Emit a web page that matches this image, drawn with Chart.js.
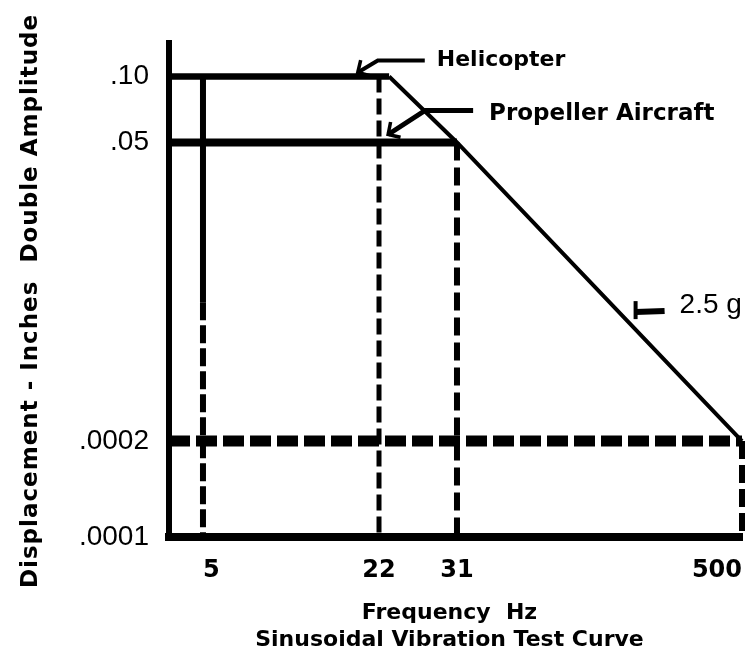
<!DOCTYPE html>
<html>
<head>
<meta charset="utf-8">
<script src="https://cdn.jsdelivr.net/npm/chart.js@4.4.1/dist/chart.umd.min.js"></script>
<style>
html, body { margin: 0; background: #fff; }
#wrap { width: 748px; height: 661px; }
</style>
</head>
<body>
<div id="wrap"><canvas id="chart"></canvas></div>
<script>
// Sinusoidal vibration test curve, drawn on schematic (not to scale) log axes
const freqTicks = [5, 22, 31, 500];
const ampTicks = [0.0001, 0.0002, 0.05, 0.1];
const ampLabels = ['.0001', '.0002', '.05', '.10'];

const heliFreq = [3.8, 23], heliAmp = [0.1, 0.1];
const propFreq = [3.8, 31], propAmp = [0.05, 0.05];
const gFreq = [23, 31, 500], gAmp = [0.1, 0.05, 0.0002];      // 2.5 g line
const floorFreq = [3.8, 500], floorAmp = [0.0002, 0.0002];
const fiveSolidAmp = [0.1, 0.0026];                           // 5 Hz line, solid part
const dropFreq = [5, 22, 31, 500];                            // dashed drop lines
const dropTop = [0.0026, 0.1, 0.05, 0.0002];

const noteText = ['Helicopter', 'Propeller Aircraft', '2.5 g'];
const noteFreq = [18.4, 22.9, 150];
const noteAmp = [0.1, 0.05, 0.00217];

// axis where each labelled value sits at a given fraction of the axis,
// log-interpolated in between (the original sketch is not to scale)
class StopScale extends Chart.Scale {
	static id = 'stops';
	static defaults = {};

	determineDataLimits() {
		const s = this.options.stops;
		this.min = s[0][0];
		this.max = s[s.length - 1][0];
	}
	buildTicks() {
		return this.options.tickValues.map(v => ({value: v}));
	}
	getPixelForValue(v) {
		const s = this.options.stops;
		let i = 1;
		while (i < s.length - 1 && v > s[i][0]) i++;
		const a = s[i - 1], b = s[i];
		const t = (Math.log10(v) - Math.log10(a[0])) / (Math.log10(b[0]) - Math.log10(a[0]));
		return this.getPixelForDecimal(a[1] + t * (b[1] - a[1]));
	}
	getValueForPixel(p) {
		const s = this.options.stops;
		let d = (p - this._startPixel) / this._length;
		if (this._reversePixels) d = 1 - d;
		let i = 1;
		while (i < s.length - 1 && d > s[i][1]) i++;
		const a = s[i - 1], b = s[i];
		const t = (d - a[1]) / (b[1] - a[1]);
		return Math.pow(10, Math.log10(a[0]) + t * (Math.log10(b[0]) - Math.log10(a[0])));
	}
	drawTitle() {
		const ctx = this.ctx, title = this.options.title;
		const shift = title.shift || [0, 0];
		ctx.save();
		ctx.letterSpacing = title.letterSpacing || '0px';
		ctx.translate(shift[0], shift[1]);
		super.drawTitle();
		ctx.restore();
	}
}
Chart.register(StopScale);

function line(xs, ys, width, dash) {
	return {
		data: xs.map((x, i) => ({x: x, y: ys[i]})),
		showLine: true,
		borderColor: '#000',
		borderWidth: width,
		borderDash: dash || [],
		borderCapStyle: 'butt',
		pointRadius: 0,
		tension: 0
	};
}

const datasets = [
	line(floorFreq, floorAmp, 11, [21, 6]),
	line([dropFreq[0], dropFreq[0]], fiveSolidAmp, 6),
	line([dropFreq[0], dropFreq[0]], [dropTop[0], ampTicks[0]], 6, [18, 5]),
	line([dropFreq[1], dropFreq[1]], [dropTop[1], ampTicks[0]], 5, [16, 6]),
	line([dropFreq[2], dropFreq[2]], [dropTop[2], ampTicks[0]], 6, [18, 7]),
	line([dropFreq[3], dropFreq[3]], [dropTop[3], ampTicks[0]], 6, [18, 6]),
	line(heliFreq, heliAmp, 6.5),
	line(propFreq, propAmp, 8),
	line(gFreq, gAmp, 4)
];

// arrows + labels, offsets in px from the point they point at
const noteShape = [
	{tip: [0, -4], path: [[67, -12], [20, -12]], width: 4, head: 'open', text: [79, -6], font: 'bold 22px "DejaVu Sans"'},
	{tip: [0, -8], path: [[85, -24], [37, -24]], width: 5, head: 'open', text: [101, -14], font: 'bold 23px "DejaVu Sans"'},
	{tip: [17, 0], path: [[29, -1]], width: 6, head: 'bar', text: [44, 1], font: '28px "Liberation Sans", Arial'}
];

const notesPlugin = {
	id: 'notes',
	afterDatasetsDraw(chart) {
		const ctx = chart.ctx, x = chart.scales.x, y = chart.scales.y;
		ctx.save();
		ctx.strokeStyle = '#000';
		ctx.fillStyle = '#000';
		noteText.forEach((t, i) => {
			const s = noteShape[i];
			const tx = x.getPixelForValue(noteFreq[i]) + s.tip[0];
			const ty = y.getPixelForValue(noteAmp[i]) + s.tip[1];
			ctx.lineWidth = s.width;
			ctx.lineCap = 'butt';
			ctx.beginPath();
			s.path.forEach((p, k) => k ? ctx.lineTo(tx + p[0], ty + p[1]) : ctx.moveTo(tx + p[0], ty + p[1]));
			ctx.lineTo(tx, ty);
			ctx.stroke();
			const last = s.path[s.path.length - 1];
			const ang = Math.atan2(last[1], last[0]);
			if (s.head == 'open') {
				ctx.lineWidth = 3.5;
				ctx.lineCap = 'square';
				ctx.beginPath();
				[-0.8, 0.8].forEach(a => {
					ctx.moveTo(tx + 11 * Math.cos(ang + a), ty + 11 * Math.sin(ang + a));
					ctx.lineTo(tx, ty);
				});
				ctx.stroke();
			} else {
				ctx.fillRect(tx - 2, ty - 11, 4, 18);
			}
			ctx.font = s.font;
			ctx.textAlign = 'left';
			ctx.textBaseline = 'alphabetic';
			ctx.fillText(t, tx + s.text[0], ty + s.text[1]);
		});
		ctx.restore();
	}
};

const bitmapFont = '"DejaVu Sans", sans-serif';

new Chart(document.getElementById('chart'), {
	type: 'scatter',
	data: {datasets: datasets},
	plugins: [notesPlugin],
	options: {
		responsive: true,
		maintainAspectRatio: false,
		animation: false,
		events: [],
		layout: {padding: {top: 43, right: 6, bottom: 0, left: 0}},
		plugins: {legend: {display: false}, tooltip: {enabled: false}},
		scales: {
			x: {
				type: 'stops',
				position: 'bottom',
				stops: [[3.8, 0], [5, 0.0593], [22, 0.3665], [31, 0.5026], [500, 1]],
				tickValues: freqTicks,
				grid: {display: false, drawTicks: true, tickLength: 16},
				border: {display: true, width: 8, color: '#000'},
				ticks: {
					padding: 3, align: 'inner', autoSkip: false, maxRotation: 0, color: '#000',
					font: {family: bitmapFont, size: 24, weight: 'bold'},
					callback: v => String(v)
				},
				title: {
					display: true,
					text: ['Frequency  Hz', 'Sinusoidal Vibration Test Curve'],
					color: '#000',
					font: {family: bitmapFont, size: 22, weight: 'bold', lineHeight: 27 / 22},
					padding: {top: 0, bottom: 7},
					shift: [-6, 0]
				},
				afterFit: s => { s.height = 124; }
			},
			y: {
				type: 'stops',
				position: 'left',
				stops: [[0.0001, 0], [0.0002, 0.1943], [0.05, 0.7986], [0.1, 0.9322], [0.14, 1]],
				tickValues: ampTicks,
				grid: {display: false, drawTicks: true, tickLength: 17},
				border: {display: true, width: 6, color: '#000'},
				ticks: {
					padding: 3, autoSkip: false, color: '#000',
					font: {family: '"Liberation Sans", Arial, sans-serif', size: 28},
					callback: v => ampLabels[ampTicks.indexOf(v)]
				},
				title: {
					display: true,
					text: 'Displacement - Inches  Double Amplitude',
					color: '#000',
					font: {family: bitmapFont, size: 23, weight: 'bold'},
					padding: {top: 17, bottom: 0},
					letterSpacing: '1px',
					shift: [0, 11]
				},
				afterFit: s => { s.width = 169; }
			}
		}
	}
});
</script>
</body>
</html>
